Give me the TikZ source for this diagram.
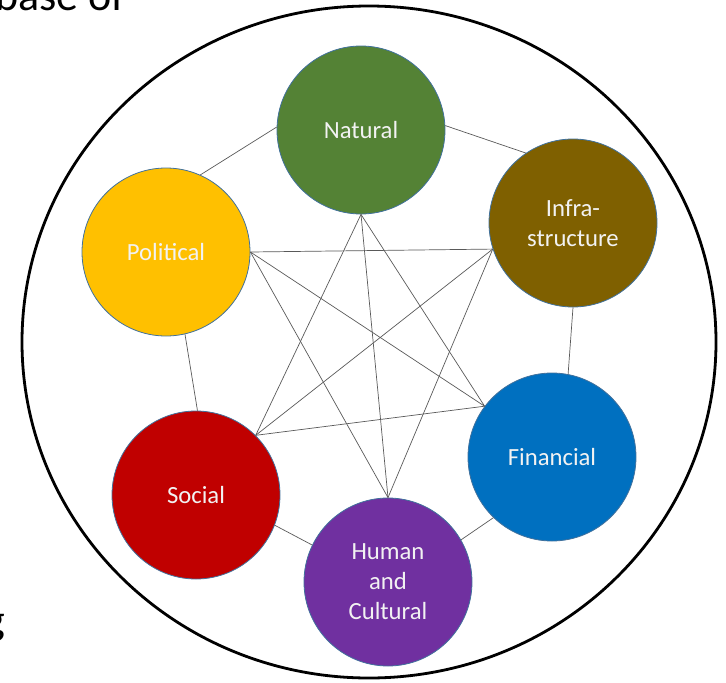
\documentclass[tikz,border=0pt]{standalone}
\usepackage{fontspec}
\setmainfont{Carlito}
\definecolor{cnat}{HTML}{548235}
\definecolor{cinf}{HTML}{7F6000}
\definecolor{cpol}{HTML}{FFC000}
\definecolor{cfin}{HTML}{0070C0}
\definecolor{csoc}{HTML}{C00000}
\definecolor{chum}{HTML}{7030A0}
\definecolor{cedge}{HTML}{41719C}
\definecolor{ctext}{HTML}{F2F2F2}
\begin{document}
\begin{tikzpicture}[x=1pt,y=-1pt,
  capital/.style={circle,draw=cedge,line width=0.8pt,minimum size=168pt,inner sep=0pt,
    text=ctext,align=center,font=\fontsize{24.7}{30}\selectfont},
  link/.style={draw=black!65,line width=0.7pt},
  outer/.style={draw=black,line width=2.8pt},
  cuttext/.style={font=\fontsize{44}{50}\selectfont,inner sep=0pt,text=black}]
\useasboundingbox (0,0) rectangle (726,683);
\clip (0,0) rectangle (726,683);
% partial surrounding text
\node[cuttext,anchor=base west] (t1) at (-5,10) {base of};
\node[cuttext,anchor=base east] (t2) at (5,634) {g};
% outer ellipse
\draw[outer] (369,342) ellipse [x radius=347, y radius=336];
% capitals
\node[capital,fill=cnat] (nat) at (361,130) {Natural};
\node[capital,fill=cinf] (inf) at (573,223) {Infra-\\structure};
\node[capital,fill=cpol] (pol) at (166,252) {Political};
\node[capital,fill=cfin] (fin) at (552,457) {Financial};
\node[capital,fill=csoc] (soc) at (196,495) {Social};
\node[capital,fill=chum] (hum) at (388,582) {Human\\and\\Cultural};
% ring links
\draw[link] (nat.178) -- (pol.66);
\draw[link] (nat.3) -- (inf.124);
\draw[link] (inf.270) -- (fin.79);
\draw[link] (fin.226) -- (hum.30);
\draw[link] (hum.154) -- (soc.339);
\draw[link] (soc.89) -- (pol.283);
% inner links
\draw[link] (nat.270) -- (soc.45);
\draw[link] (nat.270) -- (hum.90);
\draw[link] (nat.270) -- (fin.143);
\draw[link] (pol.0) -- (inf.198);
\draw[link] (pol.0) -- (fin.143);
\draw[link] (pol.0) -- (hum.90);
\draw[link] (inf.198) -- (soc.45);
\draw[link] (inf.198) -- (hum.90);
\draw[link] (soc.45) -- (fin.143);
\end{tikzpicture}
\end{document}
